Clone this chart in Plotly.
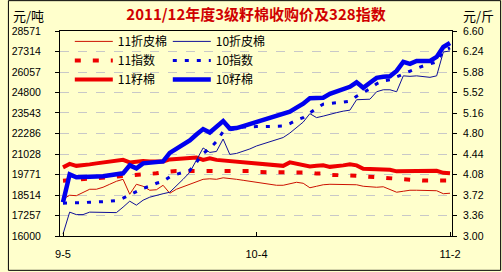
import pandas as pd
import plotly.graph_objects as go

# ---- data ----
dates = pd.date_range("2011-09-05", periods=59, freq="D")
categories = [f"{d.month}-{d.day}" for d in dates]
tick_labels_x = ["9-5", "10-4", "11-2"]

left_ticks = [16000, 17257, 18514, 19771, 21028, 22286, 23543, 24800, 26057, 27314, 28571]
right_ticks = ["3.00", "3.36", "3.72", "4.08", "4.44", "4.80", "5.16", "5.52", "5.88", "6.24", "6.60"]

lint_11 = [18257, 18501, 18471, 18684, 18867, 18867, 18989, 19172, 19355, 19477,
           18562, 19172, 19050, 18806, 18837, 19111, 18623, 18867, 19020, 19142,
           19294, 19477, 19508, 19477, 19569, 19538, 19477, 19416, 19355, 19294,
           19233, 19172, 19111, 19111, 19203, 19294, 19233, 18959, 19050, 19142,
           19172, 19172, 19172, 19172, 19142, 19050, 19020, 18989, 19020, 18867,
           18684, 18745, 18806, 18806, 18806, 18806, 18776, 18593, 18623]
lint_10 = [16122, 17464, 17312, 17312, 17464, 17464, 17434, 17434, 17434, 17769,
           18135, 17891, 18196, 18379, 18501, 18593, 18684, 19050, 19477, 19904,
           20697, 21399, 21124, 21185, 21948, 21002, 21063, 21185, 21338, 21521,
           21643, 21795, 21917, 22039, 22314, 22649, 22985, 23503, 23259, 23351,
           23473, 23564, 23656, 23717, 24357, 24388, 24388, 24845, 24967, 24967,
           24845, 25821, 25791, 25821, 25760, 25730, 25821, 27285, 27346]
index_11 = [19386, 19416, 19447, 19477, 19508, 19538, 19569, 19599, 19630, 19660,
            19691, 19721, 19752, 19782, 19843, 19904, 19965, 19983, 19983, 19983,
            19983, 19983, 20026, 19983, 19983, 19983, 19983, 19983, 19983, 19922,
            19922, 19922, 19922, 19922, 19922, 19922, 19886, 19886, 19825, 19825,
            19752, 19752, 19752, 19691, 19691, 19660, 19630, 19569, 19569, 19508,
            19459, 19459, 19416, 19416, 19398, 19398, 19398, 19398, 19398]
index_10 = [18013, 18013, 18044, 18044, 18074, 18074, 18105, 18135, 18166, 18318,
            18532, 18715, 18928, 19050, 19233, 19355, 19630, 19782, 19904, 20026,
            20514, 21063, 21368, 21795, 22405, 22527, 22619, 22680, 22710, 22710,
            22710, 22722, 22728, 22741, 22893, 23107, 23259, 23564, 23839, 24083,
            24144, 24174, 24205, 24266, 24571, 24815, 25028, 25333, 25516, 25577,
            25760, 25913, 26126, 26279, 26431, 26553, 26675, 27346, 27529]
seed_11 = [20209, 20423, 20301, 20331, 20392, 20453, 20514, 20575, 20636, 20667,
           20514, 20575, 20606, 20575, 20557, 20575, 20697, 20728, 20758, 20819,
           20819, 20667, 20758, 20667, 20636, 20575, 20514, 20484, 20453, 20453,
           20392, 20362, 20331, 20301, 20514, 20423, 20331, 20270, 20301, 20331,
           20240, 20270, 20331, 20392, 20331, 20118, 20118, 20118, 20118, 20057,
           19965, 19965, 19965, 19965, 19965, 19965, 19996, 19874, 19843]
seed_10 = [18074, 19782, 19599, 19599, 19599, 19630, 19660, 19721, 19782, 19843,
           20331, 20148, 20453, 20514, 20545, 20575, 21094, 21338, 21612, 21856,
           22222, 22558, 22344, 22710, 23046, 22588, 22619, 22741, 22863, 22985,
           23107, 23198, 23320, 23442, 23625, 23869, 24113, 24449, 24449, 24479,
           24723, 24876, 24998, 25150, 25425, 25089, 25394, 25699, 25760, 25791,
           26126, 26675, 26553, 26736, 26736, 26736, 26980, 27590, 27834]

# ---- figure ----
BG = "#FFFFCC"
CJK = "Noto Sans CJK SC"
NUM = "Liberation Sans"

fig = go.Figure()
series = [
    ("11折皮棉", lint_11, dict(color="#CC1100", width=1), "legend"),
    ("11指数", index_11, dict(color="#EE0000", width=4, dash="6px,12px"), "legend"),
    ("11籽棉", seed_11, dict(color="#EE0000", width=4), "legend"),
    ("10折皮棉", lint_10, dict(color="#101099", width=1), "legend2"),
    ("10指数", index_10, dict(color="#0000DD", width=3, dash="4px,8px"), "legend2"),
    ("10籽棉", seed_10, dict(color="#0000EE", width=4.5), "legend2"),
]
for name, vals, line, lg in series:
    fig.add_trace(go.Scatter(x=categories, y=vals, name=name, mode="lines",
                             line=line, legend=lg))

legend_common = dict(bgcolor="rgba(0,0,0,0)", borderwidth=0,
                     font=dict(family=CJK, size=12, color="#000000"),
                     itemwidth=38, tracegroupgap=0, yanchor="top",
                     traceorder="normal")

fig.update_layout(
    width=502, height=272,
    margin=dict(l=53, r=50, t=31, b=35),
    paper_bgcolor=BG, plot_bgcolor=BG,
    showlegend=True,
    legend=dict(x=0.025, y=1.02, xanchor="left", **legend_common),
    legend2=dict(x=0.275, y=1.02, xanchor="left", **legend_common),
    title=dict(text="<b>2011/12年度3级籽棉收购价及328指数</b>",
               font=dict(family=CJK, size=15, color="#D00000"),
               x=0.5, xref="paper", xanchor="center",
               y=1 - 15 / 272, yref="container", yanchor="middle"),
    xaxis=dict(type="category", range=[-0.45, 58.3],
               tickmode="array", tickvals=tick_labels_x, ticktext=tick_labels_x,
               ticks="inside", ticklen=4, tickcolor="#000000",
               showgrid=False, showline=True, linecolor="#000000", linewidth=1,
               mirror=True, zeroline=False, ticklabelstandoff=8,
               tickfont=dict(family=NUM, size=11, color="#000000")),
    yaxis=dict(range=[16000, 28571], tickmode="array", tickvals=left_ticks,
               ticktext=[str(v) for v in left_ticks],
               ticks="outside", ticklen=4, tickcolor="#000000",
               showgrid=True, gridcolor="#C8C8C8", griddash="dash", gridwidth=1,
               showline=True, linecolor="#000000", linewidth=1, mirror=True,
               zeroline=False, ticklabelstandoff=12,
               tickfont=dict(family=NUM, size=10.5, color="#000000")),
    yaxis2=dict(overlaying="y", side="right", range=[3.0, 6.6],
                tickmode="array", tickvals=[float(t) for t in right_ticks],
                ticktext=right_ticks, ticks="outside", ticklen=4,
                tickcolor="#000000", showgrid=False, zeroline=False,
                showline=False, ticklabelstandoff=4,
                tickfont=dict(family=NUM, size=10.5, color="#000000")),
    annotations=[
        dict(text="元/吨", xref="paper", yref="paper", x=-52 / 399 + 0.006, y=1 + 16 / 206,
             xanchor="left", yanchor="middle", showarrow=False,
             font=dict(family=CJK, size=13, color="#000000")),
        dict(text="元/斤", xref="paper", yref="paper", x=1 + 9 / 399, y=1 + 16 / 206,
             xanchor="left", yanchor="middle", showarrow=False,
             font=dict(family=CJK, size=13, color="#000000")),
    ],
    shapes=[dict(type="rect", xref="paper", yref="paper",
                 x0=-52.5 / 399, x1=1 + 49.5 / 399,
                 y0=-34.5 / 206, y1=1 + 30.5 / 206,
                 line=dict(color="#000000", width=1), layer="above")],
)

# invisible trace to anchor the right axis
fig.add_trace(go.Scatter(x=[categories[0]], y=[3.0], yaxis="y2", mode="markers",
                         marker=dict(opacity=0), showlegend=False, hoverinfo="skip"))

fig.write_html("out.html")
